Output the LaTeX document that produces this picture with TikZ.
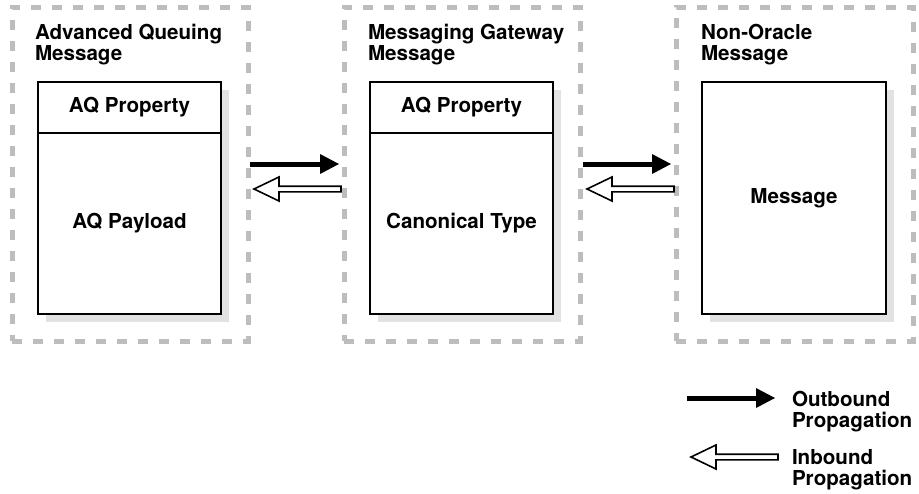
\documentclass[tikz,border=0pt]{standalone}
\usepackage{fontspec}
\setmainfont{TeX Gyre Heros}
\usetikzlibrary{calc,arrows.meta}
\definecolor{dashgray}{HTML}{BDBDBD}
\definecolor{shadowgray}{HTML}{E2E2E2}
\begin{document}
\begin{tikzpicture}[x=1pt,y=-1pt,
  every node/.style={outer sep=0pt, inner sep=0pt},
  txt/.style={font=\fontsize{20.6}{21}\selectfont\bfseries},
  lbl/.style={txt, align=left, anchor=north west},
  outerbox/.style={draw=dashgray, line width=5pt, dash pattern=on 10pt off 11pt,
    minimum width=236pt, minimum height=334pt, anchor=north west},
  propbox/.style={draw=black, line width=2.5pt, fill=white, txt,
    minimum width=183pt, minimum height=51pt, anchor=north west},
  paybox/.style={draw=black, line width=2.5pt, fill=white, txt,
    minimum width=183pt, minimum height=181pt, anchor=north},
  msgbox/.style={draw=black, line width=2.5pt, fill=white, txt,
    minimum width=184pt, minimum height=232pt, anchor=north west},
  shadowfill/.style={fill=shadowgray},
  outbound/.style={line width=5pt, -{Triangle[length=19pt,width=20pt,line width=0pt]}},
  inarrow/.pic={\draw[line width=1.6pt, fill=white, line join=miter]
    (0,0) -- (25,-12) -- (25,-2.8) -- (87,-2.8) -- (87,2.8) -- (25,2.8) -- (25,12) -- cycle;}
]
\useasboundingbox (0,0) rectangle (919,493);

% outer dashed boxes
\node[outerbox] (b1) at (12,7) {};
\node[outerbox] (b2) at (344,7) {};
\node[outerbox, minimum width=237pt] (b3) at (676,7) {};

% titles
\node[lbl] (t1) at (35,24.2) {Advanced Queuing\\Message};
\node[lbl] (t2) at (368,24.2) {Messaging Gateway\\Message};
\node[lbl] (t3) at (701,24.2) {Non-Oracle\\Message};

% shadows
\fill[shadowfill] (45.5,89.5) rectangle (228.5,321.5);
\fill[shadowfill] (377.5,89.5) rectangle (560.5,321.5);
\fill[shadowfill] (709.5,89.5) rectangle (893.5,321.5);

% inner boxes
\node[propbox] (p1) at (38,82) {AQ Property};
\node[paybox] (q1) at (p1.south) {AQ Payload};
\node[propbox] (p2) at (370,82) {AQ Property};
\node[paybox] (q2) at (p2.south) {Canonical Type};
\node[msgbox] (m3) at (702,82) {Message};

% arrows between boxes
\coordinate (o1s) at (250,164);
\coordinate (o1e) at (339,164);
\coordinate (o2s) at (583,164);
\coordinate (o2e) at (671,164);
\draw[outbound] (o1s) -- (o1e);
\draw[outbound] (o2s) -- (o2e);
\pic (i1) at (254,189) {inarrow};
\pic (i2) at (587,189) {inarrow};

% legend
\coordinate (los) at (687,398);
\coordinate (loe) at (775,398);
\draw[outbound] (los) -- (loe);
\pic (li) at (691,457) {inarrow};
\node[lbl] (lt1) at (792,391.2) {Outbound\\Propagation};
\node[lbl] (lt2) at (792,449.2) {Inbound\\Propagation};
\end{tikzpicture}
\end{document}
